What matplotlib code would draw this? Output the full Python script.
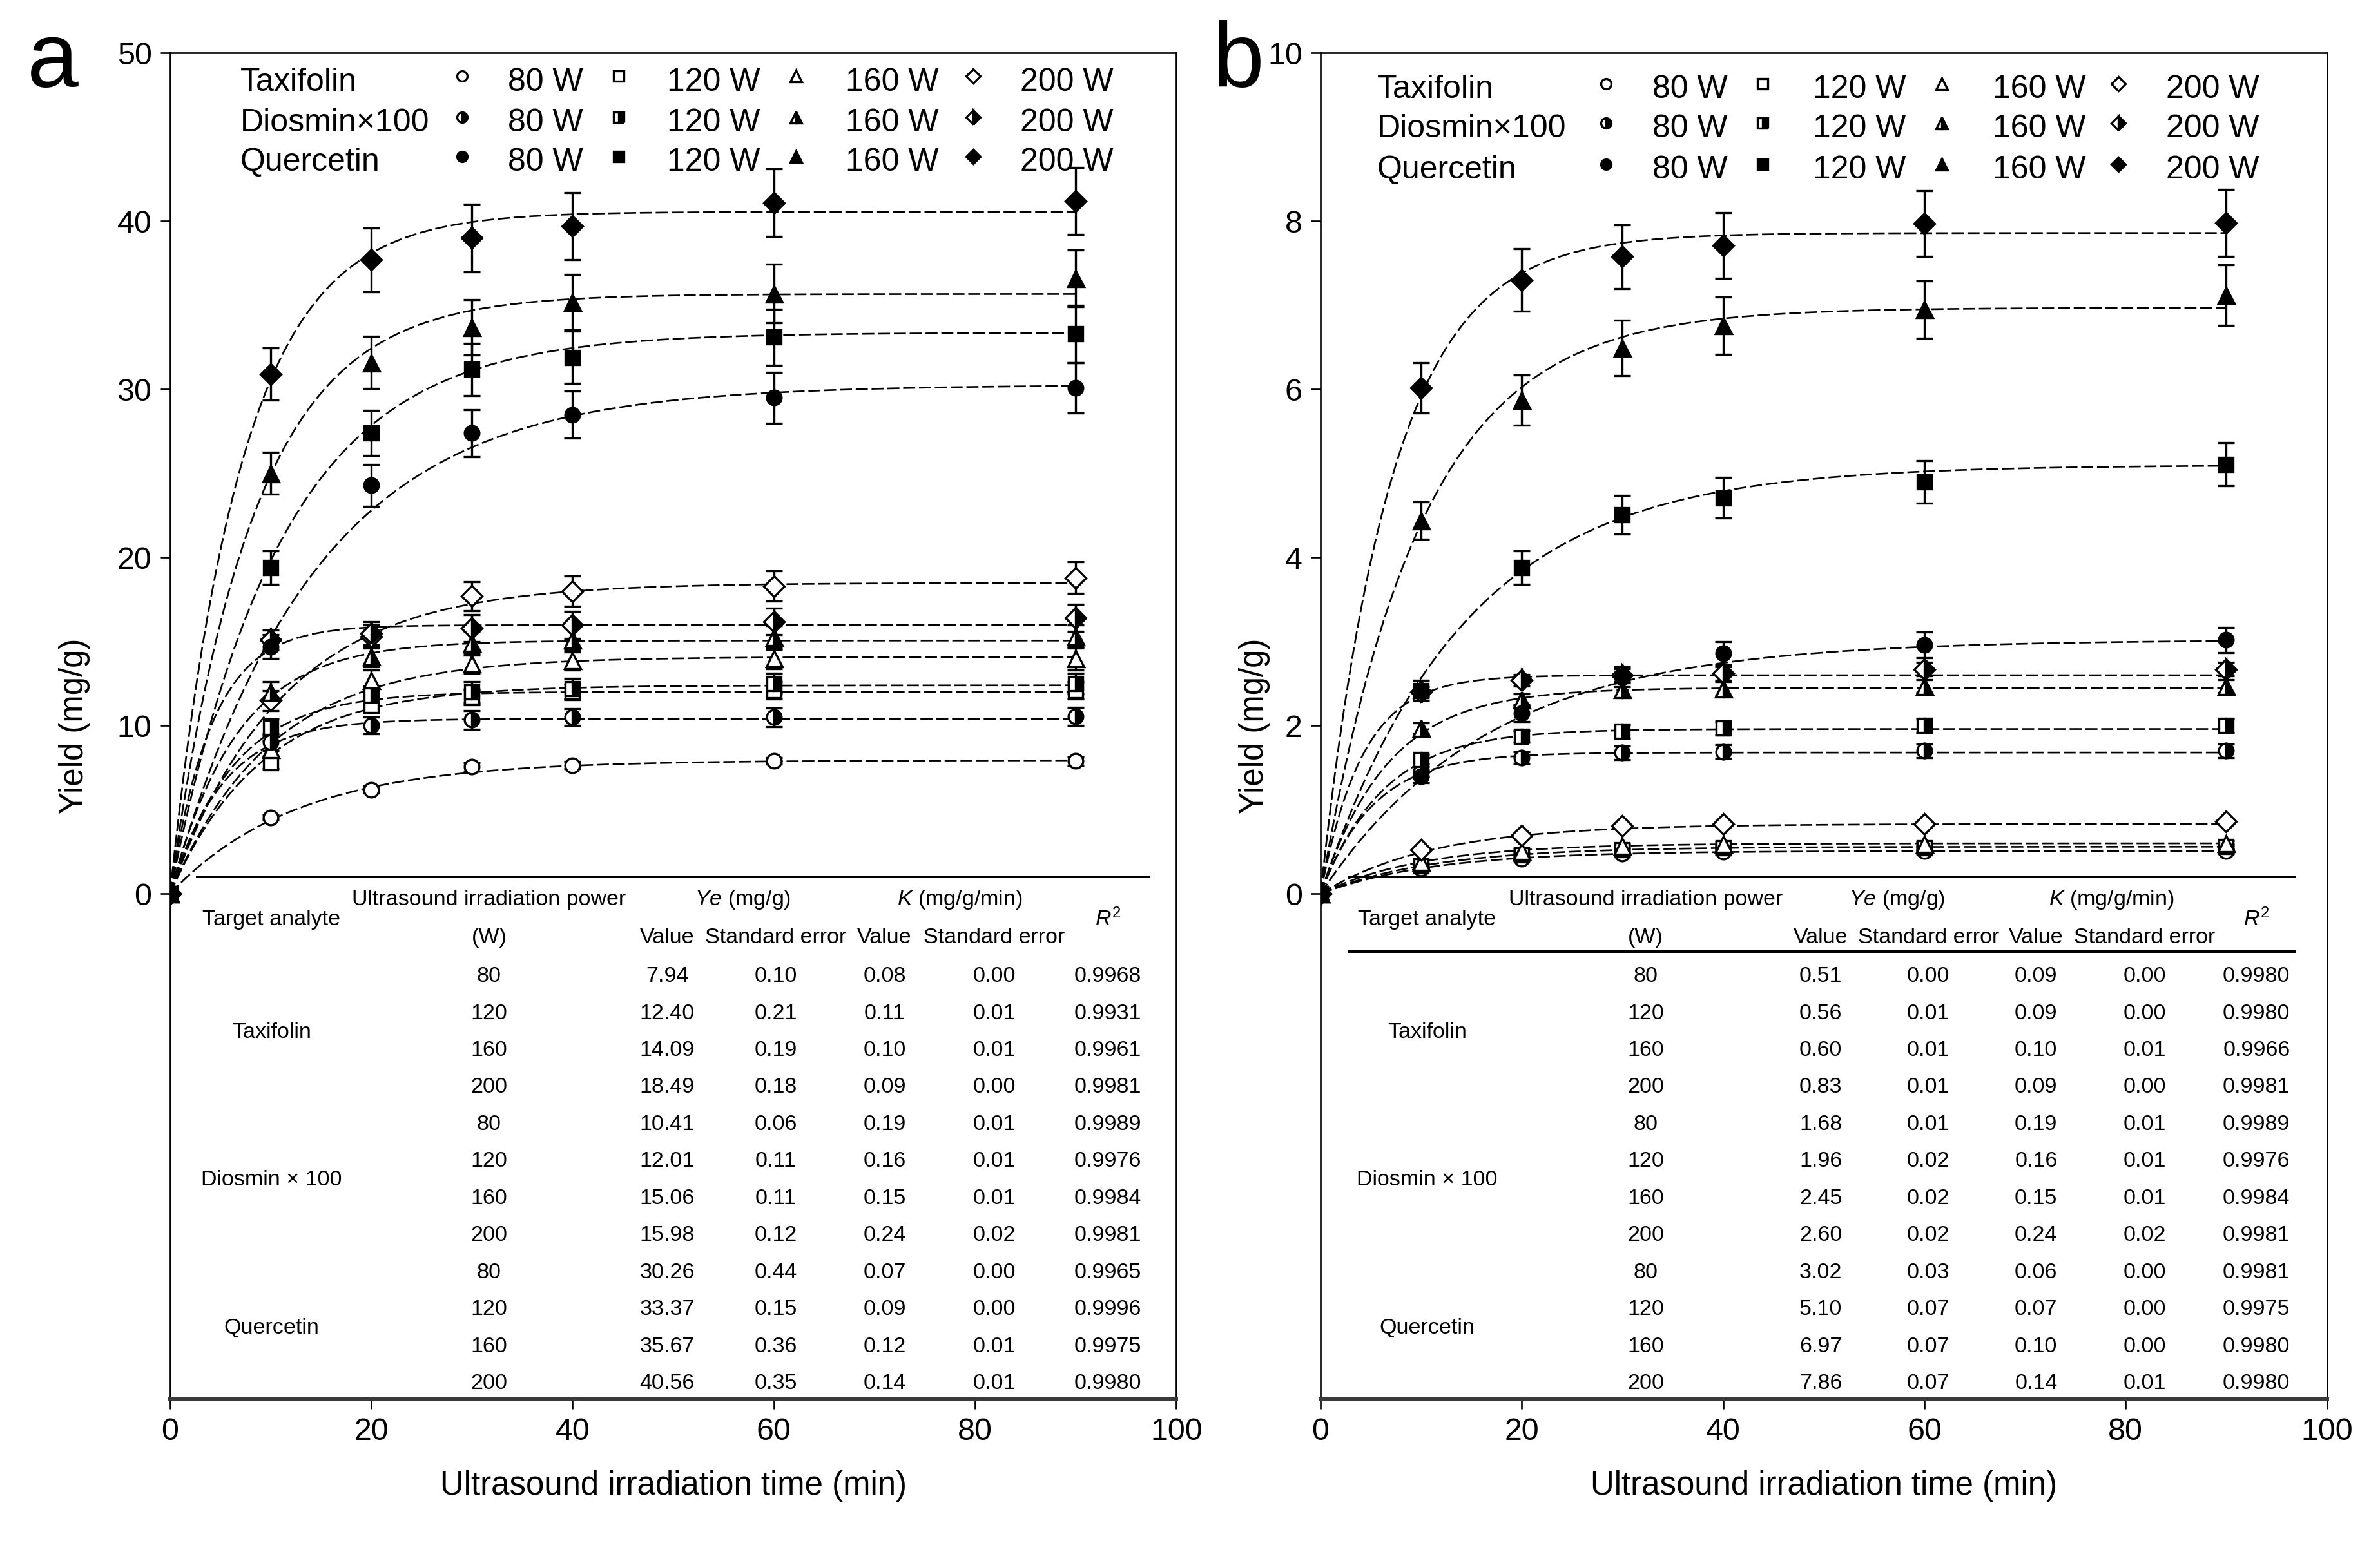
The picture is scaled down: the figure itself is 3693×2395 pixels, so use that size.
import numpy as np
import matplotlib
matplotlib.use("Agg")
import matplotlib.pyplot as plt
from matplotlib.transforms import blended_transform_factory

plt.rcParams['font.family'] = ['Liberation Sans', 'DejaVu Sans']
plt.rcParams['mathtext.fontset'] = 'custom'
plt.rcParams['mathtext.rm'] = 'Liberation Sans'
plt.rcParams['mathtext.it'] = 'Liberation Sans:italic'

# ---------------- data ----------------
time = [0, 10, 20, 30, 40, 60, 90]
powers = ["80 W", "120 W", "160 W", "200 W"]
analytes = ["Taxifolin", "Diosmin\u00d7100", "Quercetin"]

# panel a (mg/g)
a_tax = [[0, 4.55, 6.2, 7.55, 7.65, 7.9, 7.9],
         [0, 7.8, 11.2, 11.7, 12.0, 12.1, 12.1],
         [0, 8.6, 12.7, 13.7, 13.9, 14.0, 14.0],
         [0, 11.5, 15.3, 17.7, 18.0, 18.3, 18.8]]
a_dio = [[0, 9.0, 10.0, 10.35, 10.5, 10.5, 10.55],
         [0, 9.9, 11.8, 12.0, 12.2, 12.5, 12.5],
         [0, 12.0, 14.1, 14.9, 15.1, 15.25, 15.3],
         [0, 15.1, 15.5, 15.8, 16.0, 16.2, 16.4]]
a_que = [[0, 14.7, 24.3, 27.4, 28.5, 29.5, 30.1],
         [0, 19.4, 27.4, 31.2, 31.9, 33.1, 33.3],
         [0, 25.0, 31.6, 33.7, 35.2, 35.7, 36.6],
         [0, 30.9, 37.7, 39.0, 39.7, 41.1, 41.2]]
a_tax_err = [[0, 0.15, 0.2, 0.25, 0.2, 0.2, 0.25],
             [0, 0.35, 0.4, 0.45, 0.45, 0.5, 0.5],
             [0, 0.5, 0.6, 0.6, 0.6, 0.6, 0.7],
             [0, 0.6, 0.7, 0.85, 0.9, 0.9, 0.95]]
a_dio_err = [[0, 0.5, 0.5, 0.55, 0.5, 0.55, 0.55],
             [0, 0.5, 0.55, 0.6, 0.6, 0.6, 0.6],
             [0, 0.6, 0.6, 0.7, 0.7, 0.7, 0.7],
             [0, 0.6, 0.7, 0.8, 0.8, 0.8, 0.8]]
a_que_err = [[0, 0.7, 1.25, 1.4, 1.4, 1.5, 1.5],
             [0, 1.0, 1.35, 1.55, 1.55, 1.65, 1.7],
             [0, 1.25, 1.55, 1.65, 1.65, 1.75, 1.7],
             [0, 1.55, 1.9, 2.0, 2.0, 2.0, 2.0]]

# panel b (mg/g)
b_tax = [[0, 0.30, 0.42, 0.48, 0.50, 0.51, 0.51],
         [0, 0.33, 0.46, 0.52, 0.55, 0.55, 0.56],
         [0, 0.38, 0.51, 0.57, 0.59, 0.59, 0.60],
         [0, 0.52, 0.69, 0.81, 0.83, 0.83, 0.86]]
b_dio = [[0, 1.45, 1.62, 1.68, 1.69, 1.70, 1.70],
         [0, 1.60, 1.87, 1.93, 1.97, 2.00, 2.00],
         [0, 1.97, 2.31, 2.43, 2.44, 2.47, 2.47],
         [0, 2.40, 2.54, 2.60, 2.62, 2.67, 2.67]]
b_que = [[0, 1.40, 2.15, 2.58, 2.86, 2.96, 3.02],
         [0, 2.42, 3.88, 4.51, 4.71, 4.90, 5.11],
         [0, 4.44, 5.87, 6.49, 6.76, 6.95, 7.12],
         [0, 6.02, 7.30, 7.58, 7.71, 7.97, 7.98]]
b_tax_err = [[0, 0.02, 0.03, 0.03, 0.03, 0.03, 0.03]] * 4
b_dio_err = [[0, 0.06, 0.07, 0.08, 0.08, 0.08, 0.08]] * 4
b_que_err = [[0, 0.08, 0.10, 0.12, 0.14, 0.15, 0.15],
             [0, 0.12, 0.20, 0.23, 0.24, 0.25, 0.26],
             [0, 0.22, 0.30, 0.33, 0.34, 0.34, 0.36],
             [0, 0.30, 0.37, 0.38, 0.39, 0.39, 0.40]]

# fitted parameters (table)
table_power = ["80", "120", "160", "200"] * 3
a_ye = ["7.94", "12.40", "14.09", "18.49", "10.41", "12.01", "15.06", "15.98",
        "30.26", "33.37", "35.67", "40.56"]
a_ye_se = ["0.10", "0.21", "0.19", "0.18", "0.06", "0.11", "0.11", "0.12",
           "0.44", "0.15", "0.36", "0.35"]
a_k = ["0.08", "0.11", "0.10", "0.09", "0.19", "0.16", "0.15", "0.24",
       "0.07", "0.09", "0.12", "0.14"]
a_k_se = ["0.00", "0.01", "0.01", "0.00", "0.01", "0.01", "0.01", "0.02",
          "0.00", "0.00", "0.01", "0.01"]
a_r2 = ["0.9968", "0.9931", "0.9961", "0.9981", "0.9989", "0.9976", "0.9984",
        "0.9981", "0.9965", "0.9996", "0.9975", "0.9980"]
b_ye = ["0.51", "0.56", "0.60", "0.83", "1.68", "1.96", "2.45", "2.60",
        "3.02", "5.10", "6.97", "7.86"]
b_ye_se = ["0.00", "0.01", "0.01", "0.01", "0.01", "0.02", "0.02", "0.02",
           "0.03", "0.07", "0.07", "0.07"]
b_k = ["0.09", "0.09", "0.10", "0.09", "0.19", "0.16", "0.15", "0.24",
       "0.06", "0.07", "0.10", "0.14"]
b_k_se = ["0.00", "0.00", "0.01", "0.00", "0.01", "0.01", "0.01", "0.02",
          "0.00", "0.00", "0.00", "0.01"]
b_r2 = ["0.9980", "0.9980", "0.9966", "0.9981", "0.9989", "0.9976", "0.9984",
        "0.9981", "0.9981", "0.9975", "0.9980", "0.9980"]
table_groups = ["Taxifolin", "Diosmin \u00d7 100", "Quercetin"]

# ---------------- styles ----------------
markers = ['o', 's', '^', 'D']
msizes = [6.8, 6.5, 7.5, 6.7]


def mstyle(group, mk, size):
    if group == 0:
        return dict(marker=mk, markersize=size, markerfacecolor='white',
                    markeredgecolor='black', markeredgewidth=1.0)
    if group == 1:
        return dict(marker=mk, markersize=size, fillstyle='right',
                    markerfacecolor='black', markerfacecoloralt='white',
                    markeredgecolor='black', markeredgewidth=1.0)
    return dict(marker=mk, markersize=size, markerfacecolor='black',
                markeredgecolor='black', markeredgewidth=1.0)


W, H = 3693, 2395
fig = plt.figure(figsize=(W / 240, H / 240), dpi=240)

panels = [
    dict(left=263.8 / W, ymax=50, ymin=-30.05, yticks=[0, 10, 20, 30, 40, 50],
         series=[a_tax, a_dio, a_que], errs=[a_tax_err, a_dio_err, a_que_err],
         ye=a_ye, yese=a_ye_se, k=a_k, kse=a_k_se, r2=a_r2,
         cols=dict(target=10.1, power=31.7, v1=49.4, s1=60.2, v2=71.0, s2=81.9, r2=93.2,
                   yeh=56.9, kh=78.5),
         line=(2.7, 97.3), second_line=False, ylab_x=-0.079,
         leg=dict(label=7.0, mk=[29.0, 44.6, 62.2, 79.8], txt=[33.6, 49.4, 67.1, 84.5],
                  rows=[0.9808, 0.9504, 0.9211]),
         letter='a', letter_x=82 / W),
    dict(left=2049 / W, ymax=10, ymin=-6.01, yticks=[0, 2, 4, 6, 8, 10],
         series=[b_tax, b_dio, b_que], errs=[b_tax_err, b_dio_err, b_que_err],
         ye=b_ye, yese=b_ye_se, k=b_k, kse=b_k_se, r2=b_r2,
         cols=dict(target=10.6, power=32.3, v1=49.7, s1=60.4, v2=71.1, s2=81.9, r2=93.0,
                   yeh=57.3, kh=78.6),
         line=(2.8, 96.8), second_line=True, ylab_x=-0.050,
         leg=dict(label=5.6, mk=[28.4, 43.9, 61.7, 79.3], txt=[33.0, 48.9, 66.8, 84.0],
                  rows=[0.9752, 0.9459, 0.9154]),
         letter='b', letter_x=1922 / W),
]

ax_w = 1561.6 / W
bottom = 1 - 2171.6 / H
height = 2089.2 / H
tt = np.linspace(0, 90, 400)

for p in panels:
    ax = fig.add_axes([p['left'], bottom, ax_w, height])
    ax.set_xlim(0, 100)
    ax.set_ylim(p['ymin'], p['ymax'])
    ax.set_xticks([0, 20, 40, 60, 80, 100])
    ax.set_yticks(p['yticks'])
    ax.tick_params(direction='out', length=4.5, width=0.8, labelsize=14.5, pad=4)
    for s in ['top', 'right', 'left']:
        ax.spines[s].set_linewidth(0.8)
    ax.spines['bottom'].set_linewidth(1.8)
    ax.spines['bottom'].set_color('#3a3a3a')
    ax.set_xlabel("Ultrasound irradiation time (min)", fontsize=15.3, labelpad=11)
    ax.set_ylabel("Yield (mg/g)", fontsize=15.3)
    ax.yaxis.set_label_coords(p['ylab_x'], 0.5)

    # fitted curves
    for g in range(3):
        for j in range(4):
            idx = g * 4 + j
            ye = float(p['ye'][idx])
            kk = float(p['k'][idx])
            ax.plot(tt, ye * (1 - np.exp(-kk * tt)), color='black', lw=0.8,
                    ls=(0, (7, 2.2)), zorder=2)
    # error bars + markers
    for g in range(3):
        for j in range(4):
            vals = p['series'][g][j]
            errs = p['errs'][g][j]
            ax.errorbar(time[1:], vals[1:], yerr=errs[1:], fmt='none', ecolor='black',
                        elinewidth=1.0, capsize=4, capthick=1.0, zorder=3)
            ax.plot(time, vals, ls='none', zorder=4, **mstyle(g, markers[j], msizes[j]))

    # legend
    lg = p['leg']
    tr = blended_transform_factory(ax.transData, ax.transAxes)
    for g in range(3):
        y = lg['rows'][g]
        ax.text(lg['label'], y, analytes[g], transform=tr, fontsize=15, ha='left',
                va='center_baseline')
        for j in range(4):
            ax.plot([lg['mk'][j]], [y + 0.002], transform=tr, ls='none', clip_on=False,
                    **mstyle(g, markers[j], msizes[j] * 0.7))
            ax.text(lg['txt'][j], y, powers[j], transform=tr, fontsize=15,
                    ha='left', va='center_baseline')

    # table
    c = p['cols']
    fs = 10.2
    x0, x1 = p['line']
    ax.plot([x0, x1], [0.3878, 0.3878], transform=tr, color='black', lw=1.2, clip_on=False)
    if p['second_line']:
        ax.plot([x0, x1], [0.3326, 0.3326], transform=tr, color='black', lw=1.2, clip_on=False)
    ax.text(c['power'], 0.3709, "Ultrasound irradiation power", transform=tr, fontsize=fs,
            ha='center', va='center')
    ax.text(c['target'], 0.3563, "Target analyte", transform=tr, fontsize=fs,
            ha='center', va='center')
    ax.text(c['yeh'], 0.3709, r"$\it{Ye}$ (mg/g)", transform=tr, fontsize=fs,
            ha='center', va='center')
    ax.text(c['kh'], 0.3709, r"$\it{K}$ (mg/g/min)", transform=tr, fontsize=fs,
            ha='center', va='center')
    ax.text(c['r2'], 0.3563, r"$\it{R}^2$", transform=tr, fontsize=fs,
            ha='center', va='center')
    ax.text(c['power'], 0.3427, "(W)", transform=tr, fontsize=fs, ha='center', va='center')
    ax.text(c['v1'], 0.3427, "Value", transform=tr, fontsize=fs, ha='center', va='center')
    ax.text(c['s1'], 0.3427, "Standard error", transform=tr, fontsize=fs, ha='center', va='center')
    ax.text(c['v2'], 0.3427, "Value", transform=tr, fontsize=fs, ha='center', va='center')
    ax.text(c['s2'], 0.3427, "Standard error", transform=tr, fontsize=fs, ha='center', va='center')
    for i in range(12):
        y = 0.3140 - i * 0.02750
        for key, col in [('power', table_power), ('v1', p['ye']), ('s1', p['yese']),
                         ('v2', p['k']), ('s2', p['kse']), ('r2', p['r2'])]:
            ax.text(c[key], y, col[i], transform=tr, fontsize=fs, ha='center', va='center')
    for g, gy in enumerate([0.2725, 0.1630, 0.0525]):
        ax.text(c['target'], gy, table_groups[g], transform=tr, fontsize=fs,
                ha='center', va='center')

    fig.text(p['letter_x'], 1 - 135 / H, p['letter'], fontsize=43, ha='center',
             va='baseline')

fig.savefig("out.png", dpi=240)
